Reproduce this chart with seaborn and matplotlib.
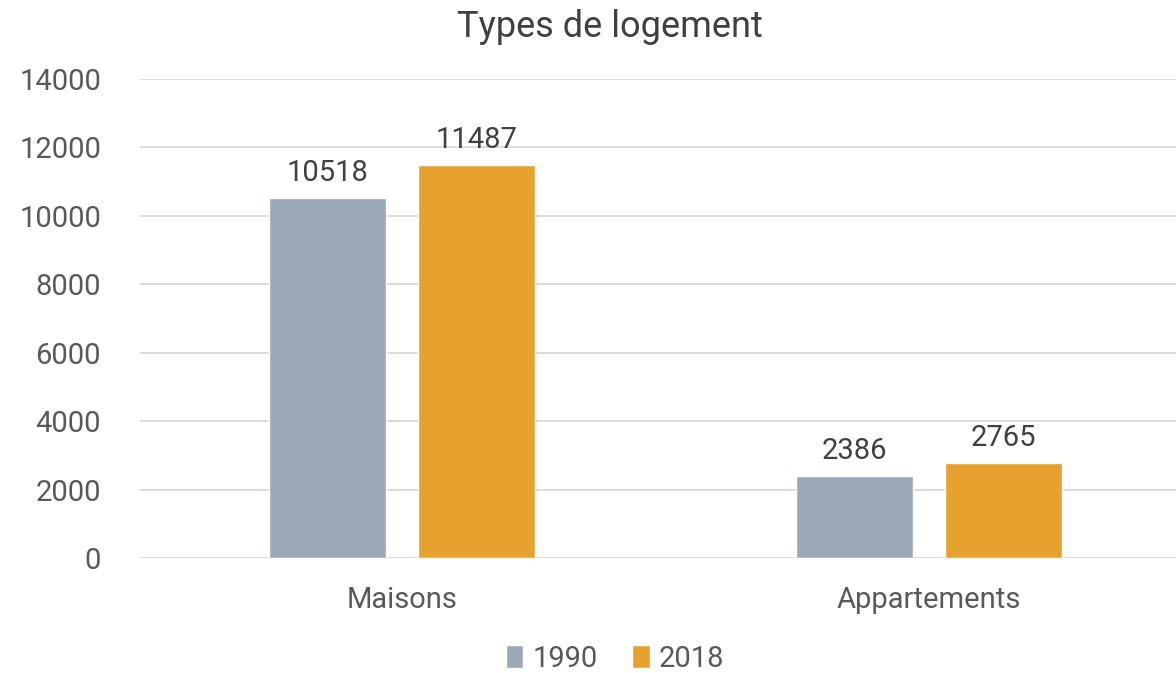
import pandas as pd
import seaborn as sns
import matplotlib.pyplot as plt
from matplotlib import font_manager

# Values
categories = ['Maisons', 'Appartements']
years = ['1990', '2018']
values_1990 = [10518, 2386]
values_2018 = [11487, 2765]
y_ticks = [0, 2000, 4000, 6000, 8000, 10000, 12000, 14000]

bar_colors = {'1990': '#9BA8B7', '2018': '#E6A12F'}
text_color = '#595959'

df = pd.DataFrame({
    'categorie': categories * 2,
    'annee': [years[0]] * 2 + [years[1]] * 2,
    'valeur': values_1990 + values_2018,
})

sns.set_theme(style='white')
installed = {f.name for f in font_manager.fontManager.ttflist}
fams = [f for f in ['Liberation Sans Narrow', 'Roboto', 'DejaVu Sans'] if f in installed]
plt.rcParams['font.family'] = fams

fig = plt.figure(figsize=(11.76, 6.73), dpi=100)
ax = fig.add_axes([140 / 1176, 1 - 558 / 673, 1 - 140 / 1176, (558 - 79) / 673])

sns.barplot(data=df, x='categorie', y='valeur', hue='annee', order=categories,
            hue_order=years, palette=bar_colors, width=0.567, gap=0.217,
            saturation=1, ax=ax, legend=True)

for cont in ax.containers:
    ax.bar_label(cont, fmt='%d', padding=8, fontsize=21, color='#404040')

ax.set_ylim(0, 14000)
ax.set_yticks(y_ticks)
ax.set_xlim(-0.497, 1.469)
ax.yaxis.grid(True, color='#D9D9D9', linewidth=1.3)
ax.set_axisbelow(True)
for s in ax.spines.values():
    s.set_visible(False)
ax.tick_params(axis='both', length=0, labelsize=21, labelcolor=text_color)
ax.tick_params(axis='x', pad=20)
ax.tick_params(axis='y', pad=28)
ax.set_xlabel('')
ax.set_ylabel('')

ax.set_title('Types de logement', fontsize=26, color='#404040', pad=30, x=(610 - 140) / 1036)

leg = ax.legend(loc='center', bbox_to_anchor=((615 - 140) / 1036, -0.21), ncol=2,
                frameon=False, fontsize=21, handlelength=0.6, handleheight=0.8,
                handletextpad=0.3, columnspacing=1.2)
for t in leg.get_texts():
    t.set_color(text_color)

fig.savefig('out.png', dpi=100)
